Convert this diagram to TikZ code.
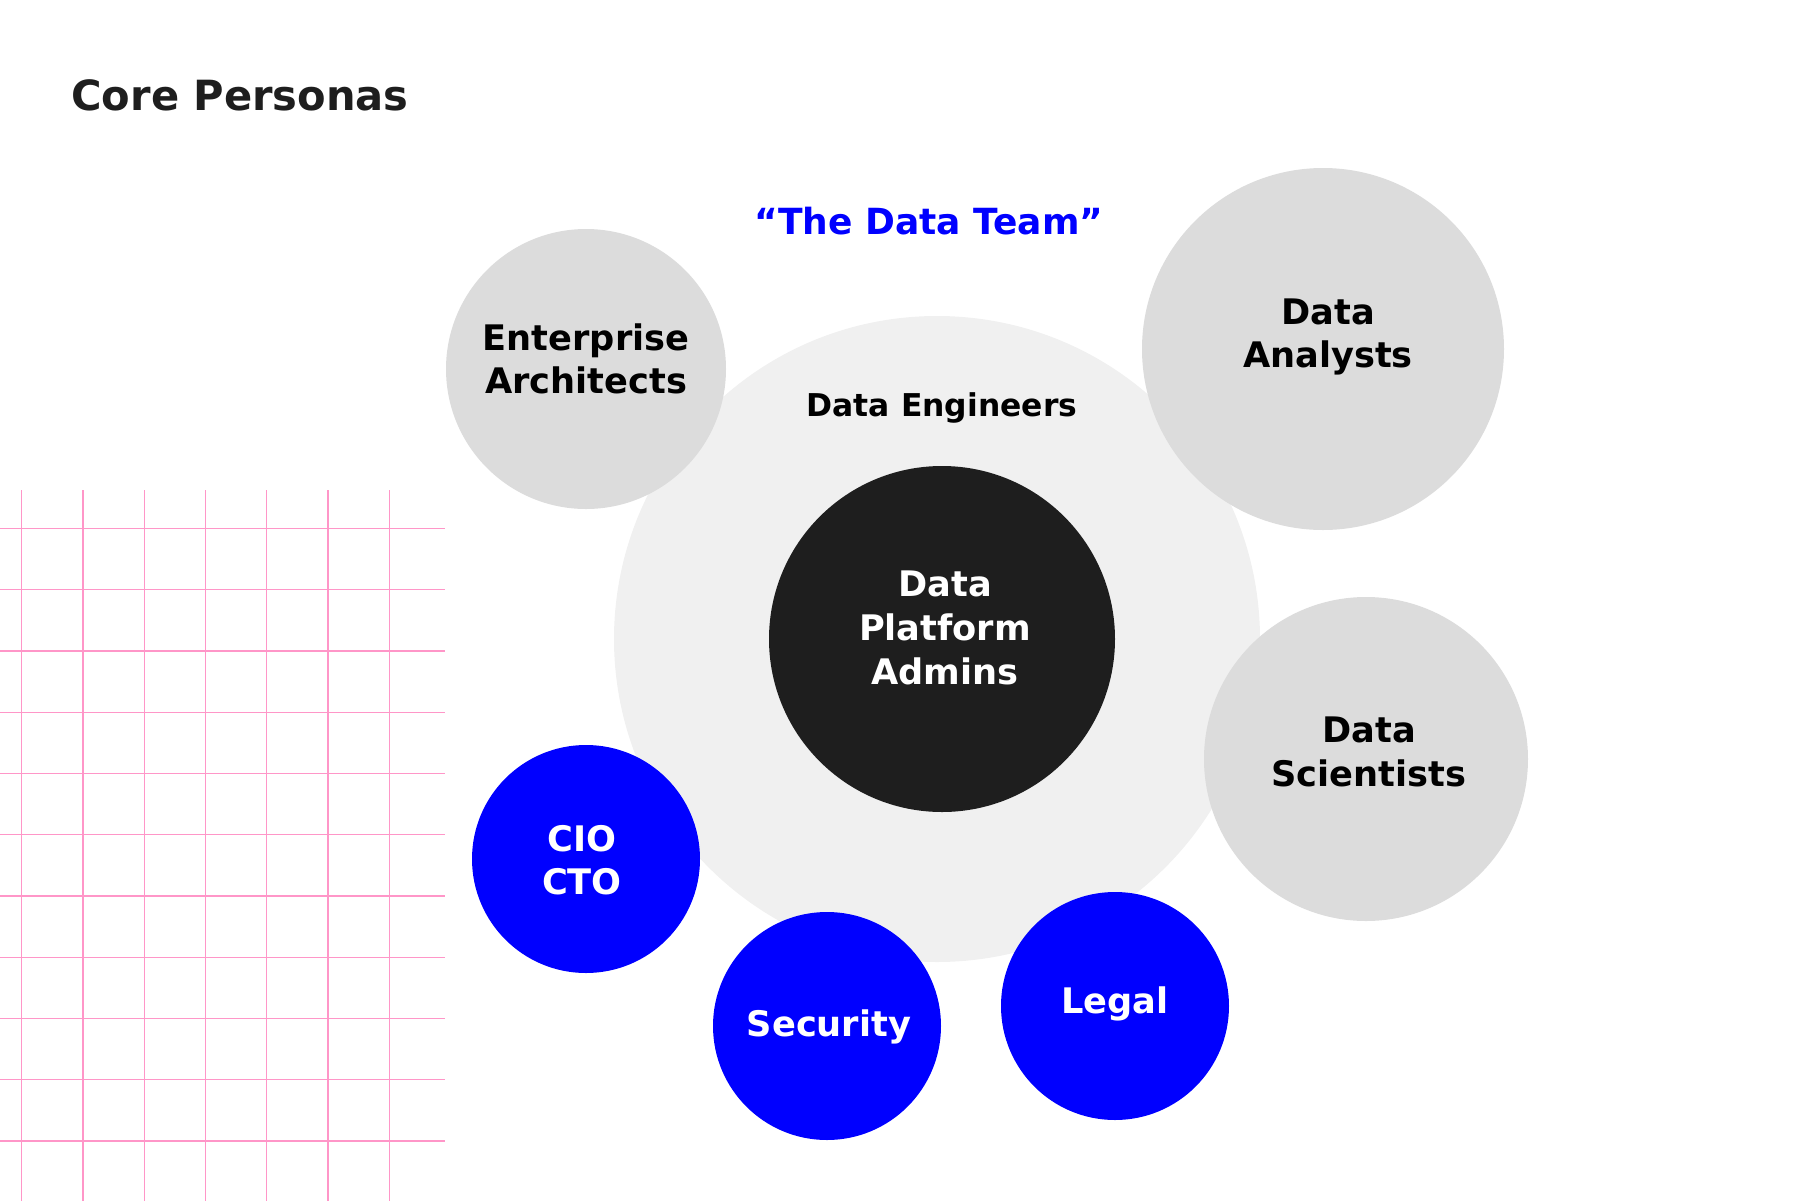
\documentclass[tikz,border=0pt]{standalone}
\usepackage{fontspec}
\setmainfont{DejaVu Sans}
\definecolor{gridpink}{RGB}{255,150,200}
\definecolor{teamblue}{RGB}{0,0,255}
\definecolor{nearblack}{RGB}{30,30,30}
\definecolor{lightgrey}{RGB}{220,220,220}
\definecolor{palegrey}{RGB}{240,240,240}

\begin{document}
\begin{tikzpicture}[x=0.5pt,y=-0.5pt,
    persona/.style={circle, inner sep=0pt, minimum size=#1},
    greyp/.style={persona=#1, fill=lightgrey},
    bluep/.style={persona=#1, fill=teamblue},
    lbl/.style={align=center, inner sep=0pt, font=\fontsize{17.6}{21.8}\selectfont\bfseries}]
                        \useasboundingbox (0,0) rectangle (1801,1201);

                        % Grid
                        \foreach \i in {0,...,6}
                            \draw[gridpink, line width=0.6pt] (21.8+61.25*\i,490) -- (21.8+61.25*\i,1201);
                        \foreach \i in {0,...,10}
                            \draw[gridpink, line width=0.6pt] (0,528.4+61.25*\i) -- (445,528.4+61.25*\i);

                        % Title
                        \node[anchor=west, inner sep=0pt, text=nearblack, font=\fontsize{20.8}{24}\selectfont\bfseries] (title) at (71,95) {Core Personas};
                        \node[text=teamblue, inner sep=0pt, font=\fontsize{18}{22}\selectfont\bfseries] (team) at (929,221) {“The Data Team”};

                        % Circles
                        \node[persona=323pt, fill=palegrey] (eng) at (937,639) {};
                        \node[greyp=140pt] (ea) at (586,369) {};
                        \node[greyp=181pt] (da) at (1323,349) {};
                        \node[greyp=162pt] (ds) at (1366,759) {};
                        \node[persona=173pt, fill=nearblack] (dpa) at (942,639) {};
                        \node[bluep=114pt] (cio) at (586,859) {};
                        \node[bluep=114pt] (sec) at (827,1026) {};
                        \node[bluep=114pt] (legal) at (1115,1006) {};

                        % Labels
                        \node[lbl, font=\fontsize{15.7}{19}\selectfont\bfseries] (eng-t) at (942,408) {Data Engineers};
                        \node[lbl] (ea-t) at (586,359) {Enterprise\\Architects};
                        \node[lbl] (da-t) at (1328,337) {Data\\Analysts};
                        \node[lbl] (ds-t) at (1369,752) {Data\\Scientists};
                        \node[lbl, text=white] (dpa-t) at (945,628) {Data\\Platform\\Admins};
                        \node[lbl, text=white] (cio-t) at (582,860) {CIO\\CTO};
                        \node[lbl, text=white] (sec-t) at (829,1027) {Security};
                        \node[lbl, text=white] (legal-t) at (1115,1004) {Legal};
                    \end{tikzpicture}
\end{document}
